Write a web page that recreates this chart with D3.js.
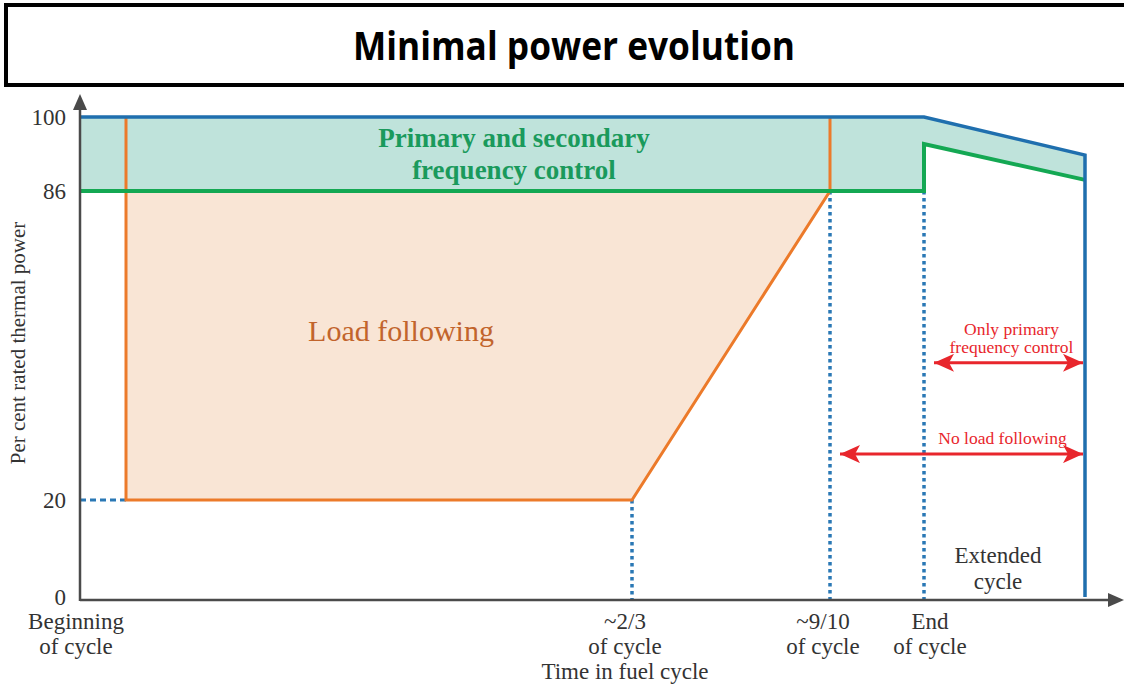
<!DOCTYPE html>
<html>
<head>
<meta charset="utf-8">
<script src="https://cdn.jsdelivr.net/npm/d3@7"></script>
<style>
  body { margin: 0; background: #fff; }
  svg { display: block; }
</style>
</head>
<body>
<div class="chart"></div>
<script>
// chart values (x = fraction of the fuel cycle, y = per cent rated thermal power)
var xStops = [0, 0.055, 0.667, 0.9, 1, 1.19];
var yTicks = [0, 20, 86, 100];
var upperEnvelope = [[0, 100], [1, 100], [1.19, 92.8]];
var lowerEnvelope = [[0, 86], [1, 86], [1, 94.9], [1.19, 88.1]];
var loadFollowing = [[0.055, 86], [0.055, 20], [0.667, 20], [0.9, 86]];
var xLabels = [
    { x: 0, lines: ["Beginning", "of cycle"] },
    { x: 0.667, lines: ["~2/3", "of cycle", "Time in fuel cycle"] },
    { x: 0.9, lines: ["~9/10", "of cycle"] },
    { x: 1, lines: ["End", "of cycle"] }
];
var dropLines = [[0.667, 20], [0.9, 86], [1, 86]];
var arrows = [
    { from: 1, to: 1.19, y: 49.3, lines: ["Only primary", "frequency control"] },
    { from: 0.9, to: 1.19, y: 29.8, lines: ["No load following"] }
];

var svgW = 1124;
var svgH = 685;

var svg = d3.select(".chart")
    .append("svg")
    .attr("width", svgW)
    .attr("height", svgH);

// schematic axes are not evenly spaced, so use piecewise scales
var x = d3.scaleLinear()
    .domain(xStops)
    .range([80, 126, 632, 830, 924, 1085]);
var y = d3.scaleLinear()
    .domain(yTicks)
    .range([600, 500, 191, 117]);

var serif = "Liberation Serif, Times New Roman, serif";
// small nudges for label centring
var labelShift = [-4, -7, -7, 6];

// title box
svg.append("rect")
    .attr("x", 6).attr("y", 5)
    .attr("width", svgW + 20).attr("height", 80)
    .attr("fill", "#fff")
    .attr("stroke", "#000")
    .attr("stroke-width", 4);
svg.append("text")
    .attr("x", 574).attr("y", 60)
    .attr("text-anchor", "middle")
    .attr("font-family", "Open Sans, Noto Sans, sans-serif")
    .attr("font-weight", "bold")
    .attr("font-size", 39)
    .attr("textLength", 442)
    .attr("lengthAdjust", "spacingAndGlyphs")
    .text("Minimal power evolution");

var line = d3.line()
    .x(function(d) { return x(d[0]); })
    .y(function(d) { return y(d[1]); });

// teal band between envelopes
var band = upperEnvelope.concat(lowerEnvelope.slice().reverse());
svg.append("path")
    .attr("d", line(band) + "Z")
    .attr("fill", "#bfe3db");

// load following area
svg.append("path")
    .attr("d", line(loadFollowing) + "Z")
    .attr("fill", "#f9e5d5");

// dotted guides
svg.append("line")
    .attr("x1", x(0)).attr("x2", x(0.055))
    .attr("y1", y(20)).attr("y2", y(20))
    .attr("stroke", "#2a78b5")
    .attr("stroke-width", 3)
    .attr("stroke-dasharray", "6,4");
dropLines.forEach(function(d) {
    svg.append("line")
        .attr("x1", x(d[0])).attr("x2", x(d[0]))
        .attr("y1", y(d[1])).attr("y2", y(0))
        .attr("stroke", "#2a78b5")
        .attr("stroke-width", 3.5)
        .attr("stroke-dasharray", "3.5,3.5");
});

// orange load following outline
svg.append("path")
    .attr("d", line([[0.055, 100], [0.055, 20], [0.667, 20], [0.9, 86], [0.9, 100]]))
    .attr("fill", "none")
    .attr("stroke", "#ec7a2a")
    .attr("stroke-width", 3);

// green lower envelope
svg.append("path")
    .attr("d", line(lowerEnvelope))
    .attr("fill", "none")
    .attr("stroke", "#14a853")
    .attr("stroke-width", 4);

// blue upper envelope + end of extended cycle
svg.append("path")
    .attr("d", line(upperEnvelope.concat([[1.19, 0.6]])))
    .attr("fill", "none")
    .attr("stroke", "#1f6fae")
    .attr("stroke-width", 3.5);

// axes
svg.append("line")
    .attr("x1", x(0)).attr("x2", x(0))
    .attr("y1", y(0) + 1).attr("y2", 106)
    .attr("stroke", "#4a4a4a").attr("stroke-width", 2.5);
svg.append("path")
    .attr("d", "M" + (x(0) - 7) + ",110 L" + x(0) + ",94 L" + (x(0) + 7) + ",110 Z")
    .attr("fill", "#4a4a4a");
svg.append("line")
    .attr("x1", x(0)).attr("x2", 1112)
    .attr("y1", y(0)).attr("y2", y(0))
    .attr("stroke", "#4a4a4a").attr("stroke-width", 2.5);
svg.append("path")
    .attr("d", "M1108," + (y(0) - 7) + " L1124," + y(0) + " L1108," + (y(0) + 7) + " Z")
    .attr("fill", "#4a4a4a");

// y tick labels
svg.selectAll(".ytick")
    .data(yTicks)
    .enter().append("text")
    .attr("class", "ytick")
    .attr("x", 66)
    .attr("y", function(d) { return y(d) + (d === 0 ? 5 : 8); })
    .attr("text-anchor", "end")
    .attr("font-family", serif)
    .attr("font-size", 23)
    .attr("fill", "#333")
    .text(function(d) { return d; });

svg.append("text")
    .attr("transform", "translate(25,343) rotate(-90)")
    .attr("text-anchor", "middle")
    .attr("font-family", serif)
    .attr("font-size", 21)
    .attr("fill", "#333")
    .text("Per cent rated thermal power");

// x labels
xLabels.forEach(function(d, k) {
    var t = svg.append("text")
        .attr("text-anchor", "middle")
        .attr("font-family", serif)
        .attr("font-size", 23)
        .attr("fill", "#333");
    d.lines.forEach(function(s, i) {
        t.append("tspan")
            .attr("x", x(d.x) + labelShift[k])
            .attr("y", 629 + i * 25)
            .text(s);
    });
});

// region labels
var prim = svg.append("text")
    .attr("text-anchor", "middle")
    .attr("font-family", serif)
    .attr("font-weight", "bold")
    .attr("font-size", 27)
    .attr("fill", "#1a9a5c");
["Primary and secondary", "frequency control"].forEach(function(s, i) {
    prim.append("tspan").attr("x", 514).attr("y", 147 + i * 32).text(s);
});

svg.append("text")
    .attr("x", 401).attr("y", 341)
    .attr("text-anchor", "middle")
    .attr("font-family", serif)
    .attr("font-size", 30)
    .attr("fill", "#c2642c")
    .text("Load following");

var ext = svg.append("text")
    .attr("text-anchor", "middle")
    .attr("font-family", serif)
    .attr("font-size", 23)
    .attr("fill", "#333");
["Extended", "cycle"].forEach(function(s, i) {
    ext.append("tspan").attr("x", 998).attr("y", 563 + i * 26).text(s);
});

// red double arrows
svg.append("defs").append("marker")
    .attr("id", "head")
    .attr("viewBox", "0 0 20 18")
    .attr("refX", 20).attr("refY", 9)
    .attr("markerWidth", 6.7).attr("markerHeight", 6)
    .attr("markerUnits", "strokeWidth")
    .attr("orient", "auto-start-reverse")
    .append("path")
    .attr("d", "M0,0 L20,9 L0,18 L5,9 Z")
    .attr("fill", "#e8262c");

arrows.forEach(function(a) {
    svg.append("line")
        .attr("x1", x(a.from) + 10).attr("x2", x(a.to) - 2)
        .attr("y1", y(a.y)).attr("y2", y(a.y))
        .attr("stroke", "#e8262c")
        .attr("stroke-width", 3)
        .attr("marker-start", "url(#head)")
        .attr("marker-end", "url(#head)");
    // labels sit inside the extended-cycle zone
    var n = a.lines.length;
    var cx = (x(1) + x(a.to)) / 2 + (n > 1 ? 7 : -2);
    a.lines.forEach(function(s, i) {
        svg.append("text")
            .attr("text-anchor", "middle")
            .attr("font-family", serif)
            .attr("font-size", 17.5)
            .attr("fill", "#e8262c")
            .attr("x", cx)
            .attr("y", y(a.y) - 10 - (n - 1 - i) * 18)
            .text(s);
    });
});
</script>
</body>
</html>
